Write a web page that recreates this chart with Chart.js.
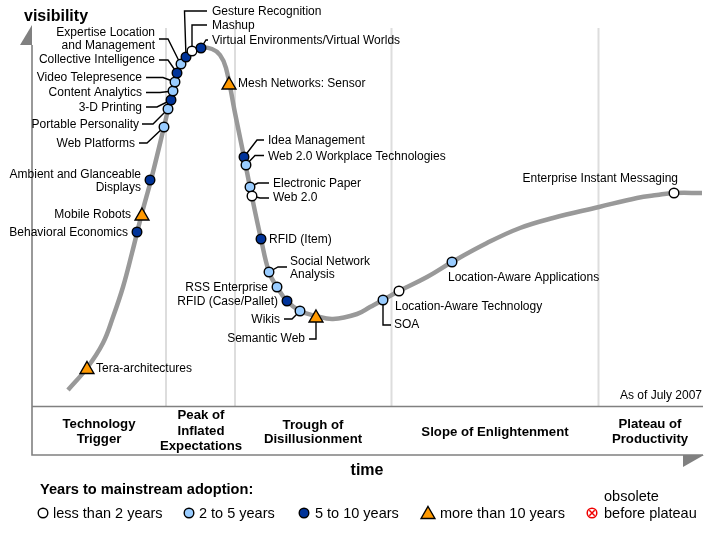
<!DOCTYPE html>
<html>
<head>
<meta charset="utf-8">
<title>Hype Cycle</title>
<script src="https://cdn.jsdelivr.net/npm/chart.js@4"></script>
<style>
    html, body { margin: 0; padding: 0; background: #fff; }
    canvas { display: block; }
</style>
</head>
<body>
<canvas id="chart" width="713" height="533"></canvas>
<script>
const curveTime = [68, 87, 103, 113, 123, 132, 142, 151, 164, 177, 186, 201, 212, 220, 226, 235, 244, 252, 261, 269, 277, 287, 300, 316, 333, 357, 370, 383, 399, 427, 452, 487, 520, 553, 599, 637, 657, 674, 702];
const curveVisibility = [390, 368, 343, 317, 287, 253, 213, 180, 127, 73, 57, 48, 49, 55, 68, 113, 157, 197, 239, 272, 287, 301, 311, 316, 319, 314, 307, 300, 291, 277, 262, 243, 228, 218, 207, 198, 195, 193, 193];

const techNames = ['Tera-architectures', 'Behavioral Economics', 'Mobile Robots', 'Ambient and Glanceable Displays', 'Web Platforms', 'Portable Personality', '3-D Printing', 'Content Analytics', 'Video Telepresence', 'Collective Intelligence', 'Expertise Location and Management', 'Gesture Recognition', 'Mashup', 'Virtual Environments/Virtual Worlds', 'Mesh Networks: Sensor', 'Idea Management', 'Web 2.0 Workplace Technologies', 'Electronic Paper', 'Web 2.0', 'RFID (Item)', 'Social Network Analysis', 'RSS Enterprise', 'RFID (Case/Pallet)', 'Wikis', 'Semantic Web', 'SOA', 'Location-Aware Technology', 'Location-Aware Applications', 'Enterprise Instant Messaging'];
const techTime = [87, 137, 142, 150, 164, 168, 171, 173, 175, 177, 181, 186, 192, 201, 229, 244, 246, 250, 252, 261, 269, 277, 287, 300, 316, 383, 399, 452, 674];
const techVisibility = [369.5, 232, 216, 180, 127, 109, 100, 91, 82, 73, 64, 57, 51, 48, 85, 157, 165, 187, 196, 239, 272, 287, 301, 311, 318, 300, 291, 262, 193];
// 0 less than 2 years, 1 2 to 5 years, 2 5 to 10 years, 3 more than 10 years
const techYears = [3, 2, 3, 2, 1, 1, 2, 1, 1, 2, 1, 2, 0, 2, 3, 2, 1, 1, 0, 2, 1, 1, 2, 1, 3, 1, 0, 1, 0];

const dividerTime = [166, 235, 391.5, 598.5];

const yearColors = ['#ffffff', '#99ccff', '#003399', '#ff9900'];
const GREY = '#808080';

// Leader lines from a marker out to its label
const leaders = [
    [[180, 63], [168, 39], [159, 39]],
    [[177, 73], [168, 60], [159, 60]],
    [[175, 82], [163, 77.5], [146, 77.5]],
    [[173, 91], [160, 92.5], [146, 92.5]],
    [[171, 100], [157, 107], [146, 107]],
    [[168, 109], [153, 124], [142, 124]],
    [[164, 127], [147, 143], [139, 143]],
    [[186, 57], [184.5, 11], [207, 11]],
    [[192, 51], [192, 25], [207, 25]],
    [[201, 48], [206, 40], [208, 40]],
    [[244, 157], [257, 140], [264, 140]],
    [[246, 165], [255, 155.5], [264, 155.5]],
    [[250, 187], [258, 183], [269, 183]],
    [[252, 196], [260, 198], [269, 198]],
    [[269, 272], [278, 267], [287, 267]],
    [[300, 311], [292, 319], [284, 319]],
    [[316, 318], [316, 339], [309, 339]],
    [[383, 300], [383, 325], [391, 325]]
];

// [text, x, y, align]
const techLabels = [
    ['Expertise Location', 155, 32, 'right'], ['and Management', 155, 45, 'right'],
    ['Collective Intelligence', 155, 59, 'right'],
    ['Video Telepresence', 142, 77, 'right'],
    ['Content Analytics', 142, 92, 'right'],
    ['3-D Printing', 142, 107, 'right'],
    ['Portable Personality', 139, 124, 'right'],
    ['Web Platforms', 135, 143, 'right'],
    ['Ambient and Glanceable', 141, 174, 'right'], ['Displays', 141, 187, 'right'],
    ['Mobile Robots', 131, 214, 'right'],
    ['Behavioral Economics', 128, 232, 'right'],
    ['Tera-architectures', 96, 368, 'left'],
    ['Gesture Recognition', 212, 10.5, 'left'],
    ['Mashup', 212, 25, 'left'],
    ['Virtual Environments/Virtual Worlds', 212, 40, 'left'],
    ['Mesh Networks: Sensor', 238, 83, 'left'],
    ['Idea Management', 268, 140, 'left'],
    ['Web 2.0 Workplace Technologies', 268, 155.5, 'left'],
    ['Electronic Paper', 273, 183, 'left'],
    ['Web 2.0', 273, 197, 'left'],
    ['RFID (Item)', 269, 239, 'left'],
    ['Social Network', 290, 261, 'left'], ['Analysis', 290, 274, 'left'],
    ['RSS Enterprise', 268, 287, 'right'],
    ['RFID (Case/Pallet)', 278, 301, 'right'],
    ['Wikis', 280, 319, 'right'],
    ['Semantic Web', 305, 338, 'right'],
    ['SOA', 394, 324, 'left'],
    ['Location-Aware Technology', 395, 306, 'left'],
    ['Location-Aware Applications', 448, 277, 'left'],
    ['Enterprise Instant Messaging', 678, 178, 'right'],
    ['As of July 2007', 702, 395, 'right']
];

const phaseLabels = [
    ['Technology', 99, 423], ['Trigger', 99, 438],
    ['Peak of', 201, 414], ['Inflated', 201, 430], ['Expectations', 201, 445],
    ['Trough of', 313, 424], ['Disillusionment', 313, 438],
    ['Slope of Enlightenment', 495, 431],
    ['Plateau of', 650, 423], ['Productivity', 650, 438]
];

const legendTime = [43, 189, 304, 428];
const legendRow = [513, 513, 513, 514.5];
const legendLabels = [
    ['less than 2 years', 53, 513], ['2 to 5 years', 199, 513], ['5 to 10 years', 315, 513],
    ['more than 10 years', 440, 513], ['obsolete', 604, 496], ['before plateau', 604, 513]
];

function pts(xs, ys) {
    return xs.map((x, i) => ({ x: x, y: ys[i] }));
}

function lineSet(data, color, width) {
    return { type: 'line', data: data, borderColor: color, borderWidth: width, pointRadius: 0, tension: 0, fill: false, clip: false };
}

function markerSet(xs, ys, years) {
    return {
        type: 'scatter',
        data: pts(xs, ys),
        clip: false,
        pointStyle: years.map(y => y === 3 ? 'triangle' : 'circle'),
        pointRadius: years.map(y => y === 3 ? 8 : 4.8),
        pointBackgroundColor: years.map(y => yearColors[y]),
        pointBorderColor: '#000',
        pointBorderWidth: 1.4
    };
}

const frame = [
    [[32, 45], [32, 455], [703, 455]],
    [[32, 406.5], [703, 406.5]]
];

const datasets = [
    markerSet(techTime, techVisibility, techYears),
    markerSet(legendTime, legendRow, [0, 1, 2, 3]),
    // obsolete marker, a circle with a cross in it
    { type: 'scatter', data: [{ x: 592, y: 513 }], clip: false, pointStyle: 'crossRot', pointRadius: 3.8, pointBorderColor: '#f00000', pointBorderWidth: 1.5 },
    { type: 'scatter', data: [{ x: 592, y: 513 }], clip: false, pointStyle: 'circle', pointRadius: 4.8, pointBackgroundColor: '#fff', pointBorderColor: '#f00000', pointBorderWidth: 1.5 }
];
leaders.forEach(l => datasets.push(lineSet(l.map(p => ({ x: p[0], y: p[1] })), '#000', 1.4)));
datasets.push(Object.assign(lineSet(pts(curveTime, curveVisibility), '#999999', 4.5), { tension: 0.4, borderCapStyle: 'butt' }));
frame.forEach(f => datasets.push(lineSet(f.map(p => ({ x: p[0], y: p[1] })), GREY, 1.6)));
dividerTime.forEach(t => datasets.push(lineSet([{ x: t, y: 28 }, { x: t, y: 406 }], '#dddddd', 2)));

// Axis arrow heads and all the texts go on top of the datasets
const decorations = {
    id: 'decorations',
    afterDatasetsDraw(chart) {
        const ctx = chart.ctx;
        const X = chart.scales.x;
        const Y = chart.scales.y;

        const arrow = (points) => {
            ctx.fillStyle = GREY;
            ctx.beginPath();
            points.forEach((p, i) => {
                if (i === 0) ctx.moveTo(X.getPixelForValue(p[0]), Y.getPixelForValue(p[1]));
                else ctx.lineTo(X.getPixelForValue(p[0]), Y.getPixelForValue(p[1]));
            });
            ctx.closePath();
            ctx.fill();
        };
        arrow([[20, 45], [32, 25], [32, 45]]);
        arrow([[683, 455], [704, 455], [683, 467]]);

        const text = (str, x, y, align, font) => {
            ctx.font = font;
            ctx.textAlign = align;
            ctx.textBaseline = 'middle';
            ctx.fillStyle = '#000';
            // canvas middle sits a pixel above the optical centre of the text
            ctx.fillText(str, X.getPixelForValue(x), Y.getPixelForValue(y) + 1);
        };
        const sans = '"Liberation Sans", Arial, sans-serif';
        techLabels.forEach(l => text(l[0], l[1], l[2], l[3], '12px ' + sans));
        phaseLabels.forEach(l => text(l[0], l[1], l[2], 'center', 'bold 13.2px ' + sans));
        text('visibility', 24, 16, 'left', 'bold 16px ' + sans);
        text('time', 367, 470, 'center', 'bold 16px ' + sans);
        text('Years to mainstream adoption:', 40, 489, 'left', 'bold 14.6px ' + sans);
        legendLabels.forEach(l => text(l[0], l[1], l[2], 'left', '14.5px ' + sans));
    }
};

new Chart(document.getElementById('chart').getContext('2d'), {
    type: 'scatter',
    data: { datasets: datasets },
    plugins: [decorations],
    options: {
        responsive: false,
        animation: false,
        events: [],
        layout: { padding: 0, autoPadding: false },
        plugins: { legend: { display: false }, tooltip: { enabled: false } },
        scales: {
            x: { type: 'linear', display: false, min: 0, max: 713 },
            y: { type: 'linear', display: false, min: 0, max: 533, reverse: true }
        }
    }
});
</script>
</body>
</html>
